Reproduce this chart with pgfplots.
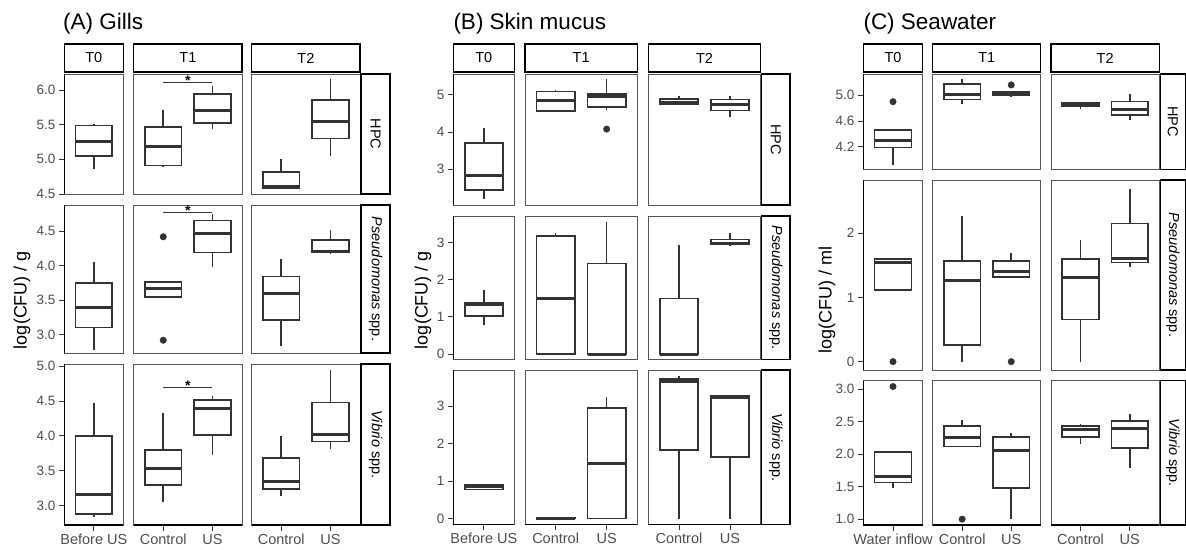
\documentclass[border=0pt]{standalone}
\usepackage{fontspec}
\setmainfont{Liberation Sans}
\usepackage{pgfplots}
\pgfplotsset{compat=1.18}
\usepgfplotslibrary{statistics}
\definecolor{g20}{HTML}{333333}
\definecolor{g30}{HTML}{4D4D4D}
\definecolor{bord}{HTML}{555555}
\newcommand{\sfnt}{\fontsize{14.5}{15}\selectfont}
\pgfplotsset{
  cell/.style={scale only axis, anchor=south west, clip=false,
    axis line style={draw=none},
    tick align=outside, major tick length=5.5pt,
    tick style={g20, line width=0.8pt},
    xtick=\empty, ytick=\empty,
    ytick pos=left, xtick pos=bottom,
    yticklabel style={font=\fontsize{13.5}{14}\selectfont, text=g30},
    xticklabel style={font=\fontsize{14.5}{15}\selectfont, text=g30},
    boxplot/draw direction=y,
    boxplot/box extend=0.75, boxplot/whisker extend=0,
    boxplot/every median/.style={line width=3pt},
    /pgf/number format/assume math mode=true,
  },
  bxs/.style={draw=g20, line width=1.6pt, fill=white, solid, mark=*, mark size=3.3pt,
    mark options={fill=g20, draw=g20, solid, line width=0.3pt}},
}
\newcommand{\bx}[6]{\addplot[bxs, boxplot prepared={draw position=#1, lower whisker=#2, lower quartile=#3, median=#4, upper quartile=#5, upper whisker=#6}] coordinates {};}
\newcommand{\bxo}[7]{\addplot[bxs, boxplot prepared={draw position=#1, lower whisker=#2, lower quartile=#3, median=#4, upper quartile=#5, upper whisker=#6}] coordinates {#7};}
\newcommand{\sig}[1]{\addplot[g20, line width=0.6pt, mark=none] coordinates {(1,#1) (2,#1)} node[pos=0.5, anchor=base, yshift=-3.5pt, inner sep=0pt, font=\fontsize{14}{14}\selectfont\bfseries, text=black] {*};}
\newcommand{\brd}{\draw[bord, line width=0.8pt] (rel axis cs:0,0) rectangle (rel axis cs:1,1);}
\newcommand{\lft}{\draw[black, line width=1.3pt] (rel axis cs:0,0) -- (rel axis cs:0,1);}
\newcommand{\btm}{\draw[black, line width=1.3pt] (rel axis cs:0,0) -- (rel axis cs:1,0);}
\newcommand{\tstrip}[3]{%
  \draw[black, line width=1.4pt, fill=white] (#1pt,477pt) rectangle (#2pt,505pt);
  \node[font=\sfnt, inner sep=0pt] at ({(#1pt+#2pt)/2},491pt) {#3};}
\newcommand{\rstrip}[5]{%
  \draw[black, line width=1.4pt, fill=white] (#1pt,#3pt) rectangle (#2pt,#4pt);
  \node[font=\sfnt, rotate=-90, inner sep=0pt] at ({(#1pt+#2pt)/2},{(#3pt+#4pt)/2}) {#5};}
\begin{document}
\begin{tikzpicture}
\useasboundingbox (0,0) rectangle (1186pt,549pt);

% ===================== (A) Gills =====================
% HPC
\begin{axis}[cell, at={(64.3pt,355pt)}, width=59pt, height=120pt, xmin=0.4, xmax=1.6, ymin=4.5, ymax=6.23,
  ytick={4.5,5,5.5,6}, yticklabels={4.5,5.0,5.5,6.0}]
\brd\lft
\bx{1}{4.86}{5.05}{5.26}{5.49}{5.505}
\end{axis}
\begin{axis}[cell, at={(133.7pt,355pt)}, width=108.3pt, height=120pt, xmin=0.4, xmax=2.6, ymin=4.5, ymax=6.23]
\brd
\bx{1}{4.885}{4.91}{5.18}{5.47}{5.71}
\bx{2}{5.44}{5.52}{5.71}{5.94}{6.05}
\sig{6.11}
\end{axis}
\begin{axis}[cell, at={(251.7pt,355pt)}, width=108.3pt, height=120pt, xmin=0.4, xmax=2.6, ymin=4.5, ymax=6.23]
\brd
\bx{1}{4.57}{4.58}{4.605}{4.82}{5.0}
\bx{2}{5.05}{5.30}{5.55}{5.855}{6.155}
\end{axis}
% Pseudomonas
\begin{axis}[cell, at={(64.3pt,196pt)}, width=59pt, height=148pt, xmin=0.4, xmax=1.6, ymin=2.735, ymax=4.876,
  ytick={3,3.5,4,4.5}, yticklabels={3.0,3.5,4.0,4.5}]
\brd\lft
\bx{1}{2.78}{3.105}{3.395}{3.75}{4.055}
\end{axis}
\begin{axis}[cell, at={(133.7pt,196pt)}, width=108.3pt, height=148pt, xmin=0.4, xmax=2.6, ymin=2.735, ymax=4.876]
\brd
\bxo{1}{3.526}{3.545}{3.665}{3.766}{3.766}{(0,4.416) (0,2.92)}
\bx{2}{3.98}{4.19}{4.47}{4.65}{4.74}
\sig{4.77}
\end{axis}
\begin{axis}[cell, at={(251.7pt,196pt)}, width=108.3pt, height=148pt, xmin=0.4, xmax=2.6, ymin=2.735, ymax=4.876]
\brd
\bx{1}{2.83}{3.21}{3.60}{3.84}{4.09}
\bx{2}{4.165}{4.19}{4.21}{4.37}{4.51}
\end{axis}
% Vibrio
\begin{axis}[cell, at={(64.3pt,24pt)}, width=59pt, height=161pt, xmin=0.4, xmax=1.6, ymin=2.72, ymax=5.03,
  ytick={3,3.5,4,4.5,5}, yticklabels={3.0,3.5,4.0,4.5,5.0}, xtick={1}, xticklabels={Before US}]
\brd\lft\btm
\bx{1}{2.83}{2.88}{3.16}{4.0}{4.475}
\end{axis}
\begin{axis}[cell, at={(133.7pt,24pt)}, width=108.3pt, height=161pt, xmin=0.4, xmax=2.6, ymin=2.72, ymax=5.03,
  xtick={1,2}, xticklabels={Control,US}]
\brd\btm
\bx{1}{3.045}{3.295}{3.535}{3.80}{4.32}
\bx{2}{3.73}{4.015}{4.39}{4.51}{4.57}
\sig{4.70}
\end{axis}
\begin{axis}[cell, at={(251.7pt,24pt)}, width=108.3pt, height=161pt, xmin=0.4, xmax=2.6, ymin=2.72, ymax=5.03,
  xtick={1,2}, xticklabels={Control,US}]
\brd\btm
\bx{1}{3.13}{3.235}{3.345}{3.68}{4.0}
\bx{2}{3.81}{3.92}{4.02}{4.48}{4.94}
\end{axis}

% ===================== (B) Skin mucus =====================
% HPC
\begin{axis}[cell, at={(453.3pt,344pt)}, width=61pt, height=131pt, xmin=0.4, xmax=1.6, ymin=2.04, ymax=5.56,
  ytick={3,4,5}, yticklabels={3,4,5}]
\brd\lft
\bx{1}{2.19}{2.44}{2.82}{3.70}{4.10}
\end{axis}
\begin{axis}[cell, at={(525pt,344pt)}, width=112.3pt, height=131pt, xmin=0.4, xmax=2.6, ymin=2.04, ymax=5.56]
\brd
\bx{1}{4.55}{4.57}{4.84}{5.09}{5.13}
\bxo{2}{4.59}{4.67}{4.95}{5.03}{5.42}{(0,4.08)}
\end{axis}
\begin{axis}[cell, at={(648.3pt,344pt)}, width=112.4pt, height=131pt, xmin=0.4, xmax=2.6, ymin=2.04, ymax=5.56]
\brd
\bx{1}{4.755}{4.755}{4.79}{4.89}{4.98}
\bx{2}{4.41}{4.575}{4.74}{4.88}{4.98}
\end{axis}
% Pseudomonas
\begin{axis}[cell, at={(453.3pt,189.7pt)}, width=61pt, height=143.3pt, xmin=0.4, xmax=1.6, ymin=-0.14, ymax=3.71,
  ytick={0,1,2,3}, yticklabels={0,1,2,3}]
\brd\lft
\bx{1}{0.77}{1.016}{1.34}{1.375}{1.735}
\end{axis}
\begin{axis}[cell, at={(525pt,189.7pt)}, width=112.3pt, height=143.3pt, xmin=0.4, xmax=2.6, ymin=-0.14, ymax=3.71]
\brd
\bx{1}{0}{0}{1.49}{3.17}{3.245}
\bx{2}{0}{0}{0}{2.43}{3.54}
\end{axis}
\begin{axis}[cell, at={(648.3pt,189.7pt)}, width=112.4pt, height=143.3pt, xmin=0.4, xmax=2.6, ymin=-0.14, ymax=3.71]
\brd
\bx{1}{0}{0}{0}{1.49}{2.94}
\bx{2}{2.93}{2.94}{2.965}{3.08}{3.245}
\end{axis}
% Vibrio
\begin{axis}[cell, at={(453.3pt,24.7pt)}, width=61pt, height=154.3pt, xmin=0.4, xmax=1.6, ymin=-0.15, ymax=3.96,
  ytick={0,1,2,3}, yticklabels={0,1,2,3}, xtick={1}, xticklabels={Before US}]
\brd\lft\btm
\bx{1}{0.78}{0.78}{0.845}{0.90}{0.90}
\end{axis}
\begin{axis}[cell, at={(525pt,24.7pt)}, width=112.3pt, height=154.3pt, xmin=0.4, xmax=2.6, ymin=-0.15, ymax=3.96,
  xtick={1,2}, xticklabels={Control,US}]
\brd\btm
\bx{1}{0}{0}{0}{0.03}{0.03}
\bx{2}{0}{0}{1.48}{2.94}{3.24}
\end{axis}
\begin{axis}[cell, at={(648.3pt,24.7pt)}, width=112.4pt, height=154.3pt, xmin=0.4, xmax=2.6, ymin=-0.15, ymax=3.96,
  xtick={1,2}, xticklabels={Control,US}]
\brd\btm
\bx{1}{0}{1.83}{3.65}{3.725}{3.79}
\bx{2}{0}{1.64}{3.24}{3.27}{3.27}
\end{axis}

% ===================== (C) Seawater =====================
% HPC
\begin{axis}[cell, at={(863.3pt,379.7pt)}, width=59.4pt, height=95.3pt, xmin=0.4, xmax=1.6, ymin=3.85, ymax=5.33,
  ytick={4.2,4.6,5.0}, yticklabels={4.2,4.6,5.0}]
\brd\lft
\bxo{1}{3.92}{4.19}{4.30}{4.46}{4.46}{(0,4.90)}
\end{axis}
\begin{axis}[cell, at={(932.7pt,379.7pt)}, width=108pt, height=95.3pt, xmin=0.4, xmax=2.6, ymin=3.85, ymax=5.33]
\brd
\bx{1}{4.87}{4.935}{5.01}{5.17}{5.26}
\bxo{2}{4.965}{4.995}{5.02}{5.05}{5.05}{(0,5.16)}
\end{axis}
\begin{axis}[cell, at={(1051pt,379.7pt)}, width=108.3pt, height=95.3pt, xmin=0.4, xmax=2.6, ymin=3.85, ymax=5.33]
\brd
\bx{1}{4.785}{4.83}{4.86}{4.88}{4.88}
\bx{2}{4.61}{4.69}{4.78}{4.90}{5.02}
\end{axis}
% Pseudomonas
\begin{axis}[cell, at={(863.3pt,179pt)}, width=59.4pt, height=190pt, xmin=0.4, xmax=1.6, ymin=-0.13, ymax=2.83,
  ytick={0,1,2}, yticklabels={0,1,2}]
\brd\lft
\bxo{1}{1.117}{1.117}{1.54}{1.60}{1.60}{(0,0)}
\end{axis}
\begin{axis}[cell, at={(932.7pt,179pt)}, width=108pt, height=190pt, xmin=0.4, xmax=2.6, ymin=-0.13, ymax=2.83]
\brd
\bx{1}{0}{0.255}{1.257}{1.568}{2.27}
\bxo{2}{1.315}{1.315}{1.397}{1.568}{1.70}{(0,0)}
\end{axis}
\begin{axis}[cell, at={(1051pt,179pt)}, width=108.3pt, height=190pt, xmin=0.4, xmax=2.6, ymin=-0.13, ymax=2.83]
\brd
\bx{1}{0}{0.654}{1.304}{1.60}{1.896}
\bx{2}{1.48}{1.542}{1.60}{2.155}{2.69}
\end{axis}
% Vibrio
\begin{axis}[cell, at={(863.3pt,24pt)}, width=59.4pt, height=144.3pt, xmin=0.4, xmax=1.6, ymin=0.91, ymax=3.13,
  ytick={1,1.5,2,2.5,3}, yticklabels={1.0,1.5,2.0,2.5,3.0}, xtick={1}, xticklabels={Water inflow}]
\brd\lft\btm
\bxo{1}{1.478}{1.566}{1.653}{2.034}{2.034}{(0,3.04)}
\end{axis}
\begin{axis}[cell, at={(932.7pt,24pt)}, width=108pt, height=144.3pt, xmin=0.4, xmax=2.6, ymin=0.91, ymax=3.13,
  xtick={1,2}, xticklabels={Control,US}]
\brd\btm
\bxo{1}{2.12}{2.12}{2.25}{2.43}{2.53}{(0,1.0)}
\bx{2}{1.0}{1.478}{2.054}{2.26}{2.33}
\end{axis}
\begin{axis}[cell, at={(1051pt,24pt)}, width=108.3pt, height=144.3pt, xmin=0.4, xmax=2.6, ymin=0.91, ymax=3.13,
  xtick={1,2}, xticklabels={Control,US}]
\brd\btm
\bx{1}{2.157}{2.26}{2.385}{2.43}{2.466}
\bx{2}{1.78}{2.09}{2.40}{2.51}{2.62}
\end{axis}

% ===================== strips =====================
\tstrip{64.3}{123.3}{T0}\tstrip{133.7}{242}{T1}\tstrip{251.7}{360}{T2}
\tstrip{453.3}{514.3}{T0}\tstrip{525}{637.3}{T1}\tstrip{648.3}{760.7}{T2}
\tstrip{863.3}{922.7}{T0}\tstrip{932.7}{1040.7}{T1}\tstrip{1051}{1159.3}{T2}

\rstrip{361}{390}{355}{475}{HPC}
\rstrip{361}{390}{196}{344}{{\itshape Pseudomonas} spp.}
\rstrip{361}{390}{24}{185}{{\itshape Vibrio} spp.}
\rstrip{761.7}{790}{344}{475}{HPC}
\rstrip{761.7}{790}{189.7}{333}{{\itshape Pseudomonas} spp.}
\rstrip{761.7}{790}{24.7}{179}{{\itshape Vibrio} spp.}
\rstrip{1160.3}{1185.2}{379.7}{475}{HPC}
\rstrip{1160.3}{1185.2}{179}{369}{{\itshape Pseudomonas} spp.}
\rstrip{1160.3}{1185.2}{24}{168.3}{{\itshape Vibrio} spp.}

% ===================== titles & axis labels =====================
\node[anchor=base west, inner sep=0pt, font=\fontsize{22.5}{22.5}\selectfont] at (63pt,519pt) {(A) Gills};
\node[anchor=base west, inner sep=0pt, font=\fontsize{22.5}{22.5}\selectfont] at (453.3pt,519pt) {(B) Skin mucus};
\node[anchor=base west, inner sep=0pt, font=\fontsize{22.5}{22.5}\selectfont] at (863.3pt,519pt) {(C) Seawater};
\node[rotate=90, inner sep=0pt, font=\fontsize{18}{18}\selectfont] at (22pt,249pt) {log(CFU) / g};
\node[rotate=90, inner sep=0pt, font=\fontsize{18}{18}\selectfont] at (423pt,249pt) {log(CFU) / g};
\node[rotate=90, inner sep=0pt, font=\fontsize{18}{18}\selectfont] at (827pt,249pt) {log(CFU) / ml};
\end{tikzpicture}
\end{document}
